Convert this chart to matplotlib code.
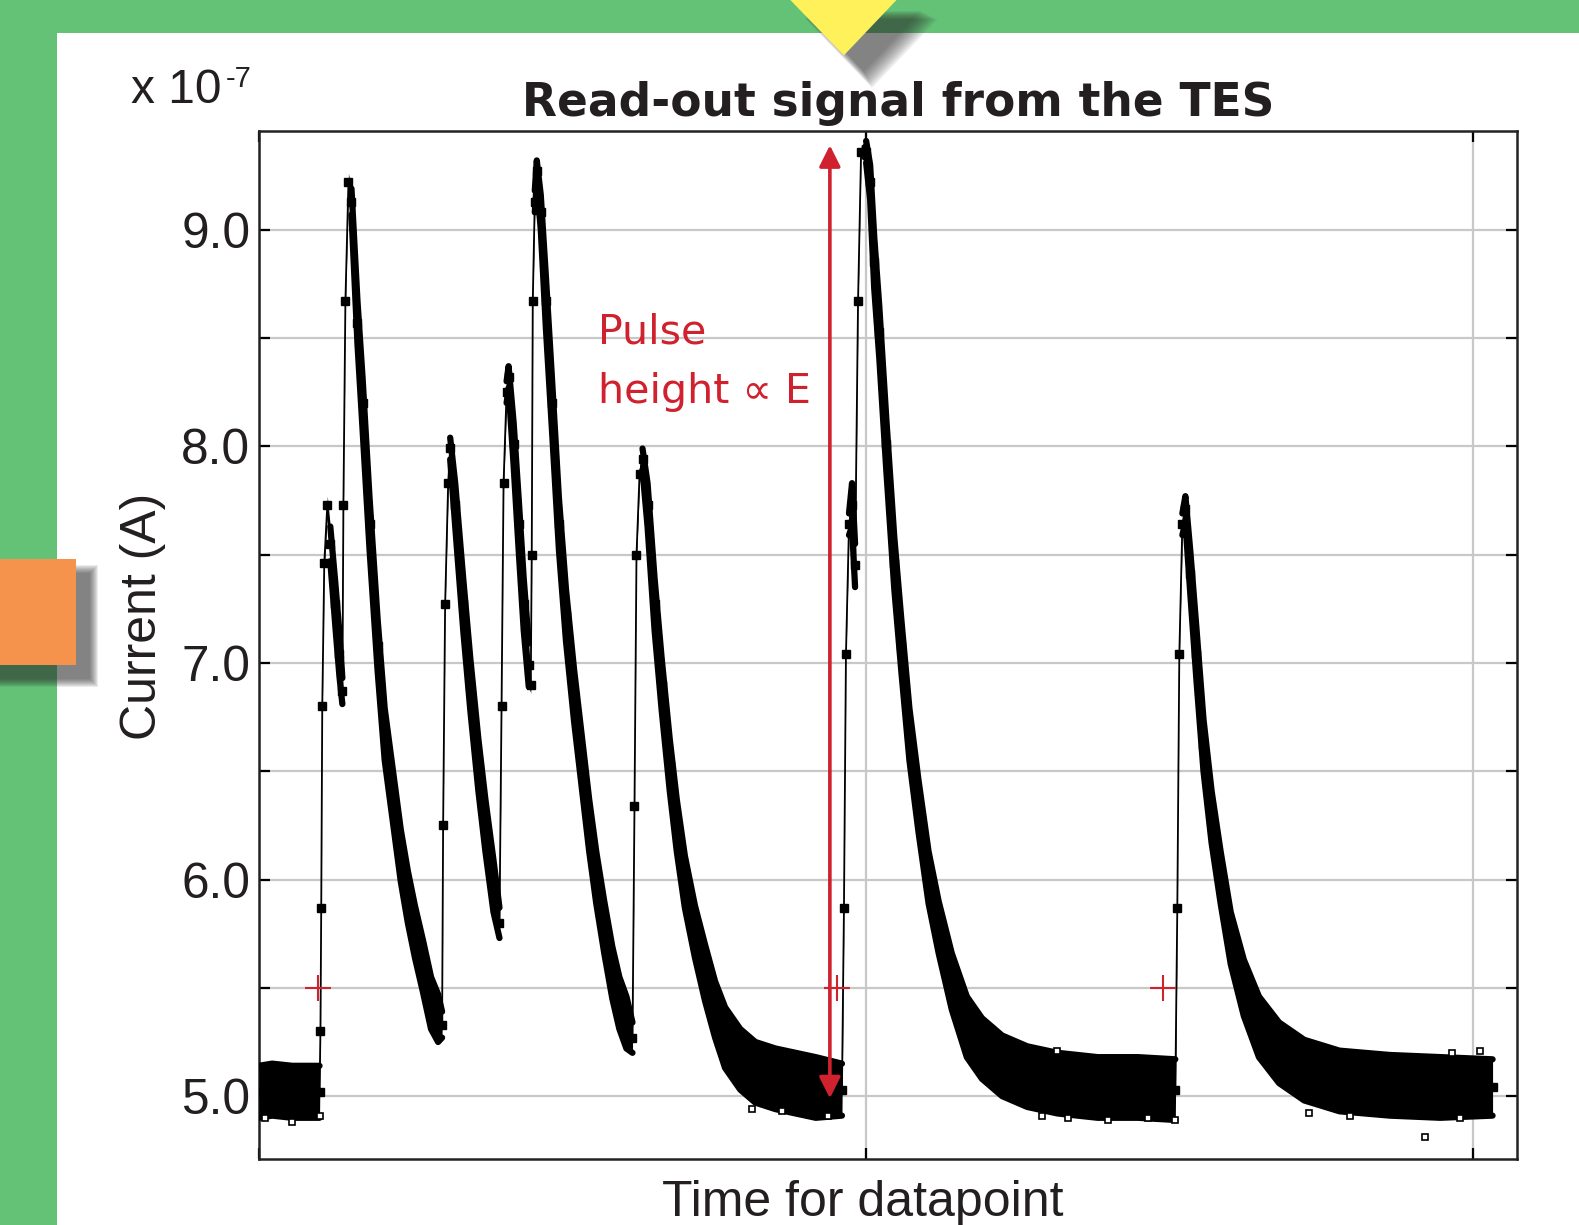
import matplotlib
matplotlib.use("Agg")
import matplotlib.pyplot as plt
from matplotlib.patches import Rectangle, Polygon

# TES read-out trace (datapoint index, current in 1e-7 A)
t = [0, 22, 55, 88, 100,
     101.5, 102.8, 104.5, 107.8, 112.8, 117.7, 126, 132.7, 137.6,
     139.3, 142.6, 147.6, 152.6,
     162.5, 170.8, 182.4, 195.7, 207.3, 220.6, 233.8, 245.4, 257, 270.3, 283.6, 295.2, 301.8,
     303.5, 306.8, 311.8, 315.1,
     323.4, 336.6, 348.3, 361.5, 373.1, 386.4, 396.3,
     399.7, 403, 408, 411.3,
     419.6, 427.9, 436.2, 444.5, 447.8,
     449.4, 451.1, 454.4, 457.7, 464.3,
     472.6, 482.6, 494.2, 505.8, 519.1, 532.3, 544, 555.6, 568.8, 582.1, 593.7, 605.3, 615.3,
     618.6, 621.9, 626.9, 631.8,
     640.1, 651.7, 663.4, 676.6, 688.2, 701.5, 718.1, 734.7, 751.3, 767.8, 792.7, 817.6,
     850.7, 883.9, 917, 960.2,
     963.5, 966.8, 971.8, 976.8, 981.8,
     986.7, 991.7, 1000, 1006.6,
     1013.3, 1021.6, 1033.2, 1046.4, 1058, 1071.3, 1086.2, 1102.8, 1119.4, 1141, 1165.8,
     1190.7, 1223.9, 1265.3, 1315.1, 1381.4, 1447.7, 1509.1,
     1512.4, 1515.7, 1520.7, 1525.7,
     1534, 1543.9, 1555.5, 1568.8, 1583.7, 1600.3, 1621.9, 1646.8, 1680, 1721.4, 1779.4,
     1862.3, 1945.3, 2031.5]

current = [5.02, 5.03, 5.02, 5.02, 5.02,
           5.30, 5.87, 6.80, 7.46, 7.73, 7.55, 7.27, 7.04, 6.87,
           7.73, 8.67, 9.22, 9.13,
           8.57, 8.20, 7.64, 7.08, 6.67, 6.39, 6.11, 5.92, 5.76, 5.60, 5.43, 5.36, 5.33,
           6.25, 7.27, 7.83, 7.99,
           7.73, 7.27, 6.90, 6.53, 6.25, 5.97, 5.80,
           6.80, 7.83, 8.25, 8.32,
           8.01, 7.64, 7.27, 6.99, 6.90,
           7.50, 8.67, 9.13, 9.27, 9.08,
           8.67, 8.20, 7.64, 7.22, 6.85, 6.53, 6.25, 6.01, 5.78, 5.57, 5.43, 5.34, 5.27,
           6.34, 7.50, 7.87, 7.94,
           7.73, 7.27, 6.90, 6.53, 6.25, 5.99, 5.76, 5.57, 5.40, 5.27, 5.17, 5.11,
           5.08, 5.06, 5.04, 5.03,
           5.87, 7.04, 7.64, 7.73, 7.45,
           8.67, 9.36, 9.36, 9.22,
           8.85, 8.53, 8.01, 7.46, 7.08, 6.67, 6.34, 6.01, 5.78, 5.53, 5.32,
           5.22, 5.14, 5.09, 5.06, 5.04, 5.04, 5.03,
           5.87, 7.04, 7.64, 7.71,
           7.41, 7.04, 6.62, 6.29, 6.01, 5.73, 5.50, 5.32, 5.20, 5.12, 5.07,
           5.05, 5.04, 5.04]

# half-width of the noise band around the trace
spread = [0.12, 0.12, 0.12, 0.12, 0.12,
          0.02, 0.02, 0.02, 0.03, 0.04, 0.08, 0.10, 0.10, 0.06,
          0.02, 0.03, 0.04, 0.06,
          0.10, 0.12, 0.12, 0.12, 0.12, 0.12, 0.12, 0.12, 0.12, 0.12, 0.12, 0.11, 0.06,
          0.02, 0.02, 0.04, 0.05,
          0.10, 0.12, 0.12, 0.12, 0.12, 0.12, 0.07,
          0.02, 0.03, 0.05, 0.05,
          0.10, 0.12, 0.12, 0.10, 0.04,
          0.02, 0.03, 0.05, 0.05, 0.08,
          0.12, 0.12, 0.12, 0.12, 0.12, 0.12, 0.12, 0.12, 0.12, 0.12, 0.12, 0.12, 0.07,
          0.02, 0.03, 0.04, 0.05,
          0.10, 0.12, 0.12, 0.12, 0.12, 0.12, 0.12, 0.13, 0.13, 0.14, 0.14, 0.14,
          0.14, 0.14, 0.14, 0.12,
          0.02, 0.02, 0.05, 0.10, 0.10,
          0.03, 0.03, 0.05, 0.08,
          0.12, 0.12, 0.12, 0.12, 0.12, 0.12, 0.12, 0.12, 0.12, 0.13, 0.14,
          0.14, 0.14, 0.14, 0.14, 0.14, 0.14, 0.14,
          0.02, 0.02, 0.05, 0.06,
          0.10, 0.12, 0.12, 0.12, 0.12, 0.12, 0.13, 0.14, 0.14, 0.14, 0.14,
          0.14, 0.14, 0.13]

# stray samples sticking out of the band (hollow squares)
outlier_t = [10, 55, 101, 812.6, 860.7, 937, 1290, 1331.7, 1398, 1464.4, 1509,
             1729.7, 1796, 1920.4, 1978.4, 2011.6, 1965, 1315]
outlier_current = [4.90, 4.88, 4.91, 4.94, 4.93, 4.91, 4.91, 4.90, 4.89, 4.90, 4.89,
                   4.92, 4.91, 4.81, 4.90, 5.21, 5.20, 5.21]

# trigger marks at the 5.5 threshold
trigger_t = [97.8, 952.7, 1489.2]
trigger_current = [5.5, 5.5, 5.5]

# pulse height arrow
arrow_t = 940.3
arrow_bottom = 4.99
arrow_top = 9.39

y_ticks = [5.0, 5.5, 6.0, 6.5, 7.0, 7.5, 8.0, 8.5, 9.0]
y_labels = ['5.0', '', '6.0', '', '7.0', '', '8.0', '', '9.0']
x_ticks = [0, 1000, 2000]

GREEN = '#64c277'
ORANGE = '#f5924b'
YELLOW = '#fef15a'
RED = '#d0212e'
TXT = '#231f20'

W, H = 1568, 1216


def fx(px):
    return px / W


def fy(py):
    return 1 - py / H


plt.rcParams['font.family'] = ['Liberation Sans', 'DejaVu Sans']

fig = plt.figure(figsize=(15.79, 12.25), dpi=100)
fig.patch.set_facecolor(GREEN)

# white slide panel
fig.add_artist(Rectangle((fx(57), 0), 1, fy(33), transform=fig.transFigure,
                         facecolor='white', edgecolor='none', zorder=0))

# orange tab with soft shadow
for k in range(8, -1, -1):
    fig.add_artist(Rectangle((fx(0), fy(660 + 14 + k)), fx(75 + 14 + k), fy(555 + 14 - k) - fy(660 + 14 + k),
                             transform=fig.transFigure, facecolor='#2a2a2a', edgecolor='none',
                             alpha=0.09, zorder=1))
fig.add_artist(Rectangle((0, fy(660)), fx(75), fy(555) - fy(660), transform=fig.transFigure,
                         facecolor=ORANGE, edgecolor='none', zorder=2))

# yellow marker triangle with shadow
tri = [(780, -5), (895, -5), (838, 55)]
for k in range(8, -1, -1):
    dx, dy = 20 + k, 16 + k
    pts = [(fx(x + dx + (k if i == 1 else -k if i == 0 else 0)), fy(y + dy + (k if i == 2 else 0)))
           for i, (x, y) in enumerate(tri)]
    fig.add_artist(Polygon(pts, closed=True, transform=fig.transFigure, facecolor='#2a2a2a',
                           edgecolor='none', alpha=0.09, zorder=1))
fig.add_artist(Polygon([(fx(x), fy(y)) for x, y in tri], closed=True, transform=fig.transFigure,
                       facecolor=YELLOW, edgecolor='none', zorder=2))

ax = fig.add_axes([fx(257), fy(1150), fx(1506) - fx(257), fy(130) - fy(1150)])
ax.set_zorder(3)

lower = [c - s for c, s in zip(current, spread)]
upper = [c + s for c, s in zip(current, spread)]
# envelope edges only where the trace is a noisy band (not on the fast rises)
nan = float('nan')
upper_edge = [u if s >= 0.05 else nan for u, s in zip(upper, spread)]
lower_edge = [l if s >= 0.05 else nan for l, s in zip(lower, spread)]

ax.fill_between(t, lower, upper, color='black', lw=0, zorder=3)
ax.plot(t, upper_edge, color='black', lw=4.5, solid_capstyle='round', solid_joinstyle='round', zorder=3)
ax.plot(t, lower_edge, color='black', lw=4.5, solid_capstyle='round', solid_joinstyle='round', zorder=3)
ax.plot(t, current, color='black', lw=1.3, marker='s', ms=5.5, zorder=4)
ax.plot(outlier_t, outlier_current, ls='none', marker='s', ms=4.5, mfc='white', mec='black',
        mew=1.2, zorder=4)
ax.plot(trigger_t, trigger_current, ls='none', marker='+', ms=19, mew=1.5, color=RED, zorder=5)
ax.annotate('', xy=(arrow_t, arrow_top), xytext=(arrow_t, arrow_bottom),
            arrowprops=dict(arrowstyle='<|-|>', color=RED, lw=2.6, mutation_scale=32,
                            shrinkA=0, shrinkB=0), zorder=6)

ax.set_xlim(0, 2071)
ax.set_ylim(4.712, 9.456)
ax.set_yticks(y_ticks, y_labels)
ax.set_xticks(x_ticks, ['', '', ''])
ax.grid(True, color='#c8c8c8', lw=1.6)
ax.set_axisbelow(True)
ax.tick_params(direction='in', length=8, width=1.6, top=True, right=True,
               labelsize=35.7, pad=6, labelcolor=TXT)
for sp in ax.spines.values():
    sp.set_linewidth(1.8)
    sp.set_color('#222222')

fig.text(fx(892), fy(115), 'Read-out signal from the TES', ha='center', va='baseline',
         fontsize=32.8, fontweight='bold', family='DejaVu Sans', color=TXT)
fig.text(fx(130), fy(102), 'x 10', fontsize=34.5, va='baseline', color=TXT)
fig.text(fx(224), fy(86), '-7', fontsize=21, va='baseline', color=TXT)
fig.text(fx(142), fy(612), 'Current (A)', rotation=90, ha='center', va='center',
         fontsize=36, color=TXT)
fig.text(fx(857), fy(1207), 'Time for datapoint', ha='center', va='baseline',
         fontsize=36, color=TXT)
fig.text(fx(594), fy(341), 'Pulse', fontsize=29.6, va='baseline', color=RED, family='DejaVu Sans')
fig.text(fx(594), fy(400), 'height \u221d E', fontsize=29.6, va='baseline', color=RED,
         family='DejaVu Sans')

fig.savefig('out.png', dpi=100)
